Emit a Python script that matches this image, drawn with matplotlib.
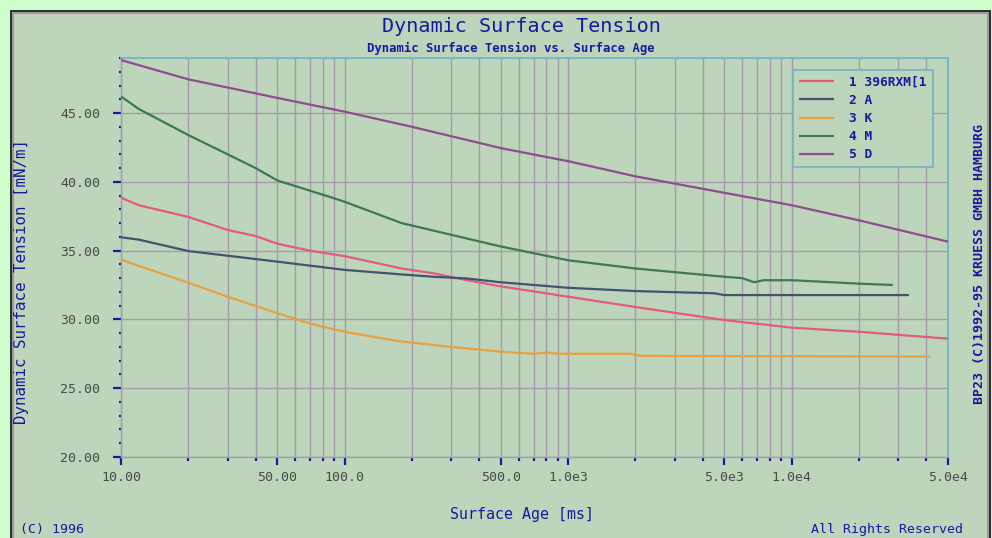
import matplotlib
matplotlib.use("Agg")
import matplotlib.pyplot as plt
from matplotlib.patches import Rectangle
import matplotlib.ticker as mticker

# ---------------- data ----------------
t_rxm = [10, 12, 20, 30, 40, 50, 70, 100, 180, 250, 350, 500, 1000, 2000, 5000, 10000,
         20000, 50000]
v_rxm = [38.85, 38.3, 37.45, 36.5, 36.06, 35.5, 35.0, 34.6, 33.7, 33.35, 32.86, 32.4, 31.65,
         30.9, 29.95, 29.4, 29.1, 28.6]

t_a = [10, 12, 20, 50, 100, 180, 250, 350, 500, 1000, 2000, 4500, 5000, 33400]
v_a = [35.97, 35.8, 34.97, 34.2, 33.6, 33.27, 33.1, 32.98, 32.7, 32.3, 32.06, 31.9, 31.77, 31.77]

t_k = [10, 11, 20, 30, 50, 70, 100, 150, 180, 300, 500, 700, 800, 900, 1000, 1900, 2100, 41500]
v_k = [34.37, 34.1, 32.67, 31.65, 30.45, 29.7, 29.1, 28.6, 28.4, 28.0, 27.65, 27.5, 27.6,
       27.5, 27.5, 27.5, 27.35, 27.3]

t_m = [10, 12, 20, 30, 40, 50, 90, 100, 180, 500, 1000, 2000, 5000, 6000, 6800, 7500,
       10000, 20000, 28300]
v_m = [46.2, 45.3, 43.4, 42.0, 41.0, 40.1, 38.8, 38.55, 37.0, 35.3, 34.3, 33.7, 33.1,
       33.0, 32.7, 32.85, 32.85, 32.6, 32.5]

t_d = [10, 20, 50, 100, 200, 500, 1000, 2000, 5000, 10000, 20000, 50000]
v_d = [48.85, 47.45, 46.1, 45.1, 44.0, 42.45, 41.5, 40.4, 39.2, 38.3, 37.2, 35.65]

series_labels = ["1 396RXM[1", "2 A", "3 K", "4 M", "5 D"]
series_colors = ["#e45a80", "#44546e", "#e8a040", "#3f7a4a", "#8e4e8e"]

x_major = [10, 50, 100, 500, 1000, 5000, 10000, 50000]
x_major_labels = ["10.00", "50.00", "100.0", "500.0", "1.0e3", "5.0e3", "1.0e4", "5.0e4"]
y_major = [20, 25, 30, 35, 40, 45]
y_major_labels = ["20.00", "25.00", "30.00", "35.00", "40.00", "45.00"]

# ---------------- style ----------------
W, H = 992, 538
OUTER = "#ccffcc"
PANEL = "#bdd5bb"
GRID = "#a89aae"
SPINE_BLUE = "#74b4c8"
TXT_BLUE = "#1818a0"
TICK_TXT = "#4a4a4a"
MONO = ["DejaVu Sans Mono"]

fig = plt.figure(figsize=(W / 100, H / 100), dpi=100, facecolor=OUTER)

def fx(px):
    return px / W

def fy(py):
    return 1 - py / H

# outer panel with double dark border
for off, col in [(10, "#303030"), (12, "#9a9a9a"), (14, PANEL)]:
    x0, x1 = off, 991 - (off - 10)
    fig.patches.append(Rectangle((fx(x0), fy(548)), fx(x1 - x0), (548 - off) / H,
                                 transform=fig.transFigure, facecolor=col,
                                 edgecolor="none", zorder=-5))

left, right, top, bottom = 121, 948, 58, 457
ax = fig.add_axes([fx(left), fy(bottom), fx(right - left), (bottom - top) / H])
ax.set_zorder(2)
ax.set_facecolor(PANEL)

ax.set_xscale("log")
ax.set_xlim(10, 50000)
ax.set_ylim(20, 49)

series = [(t_rxm, v_rxm), (t_a, v_a), (t_k, v_k), (t_m, v_m), (t_d, v_d)]
for (t, v), lab, col in zip(series, series_labels, series_colors):
    ax.plot(t, v, color=col, lw=1.6, label=lab, zorder=3, solid_capstyle="butt")

# ticks
ax.xaxis.set_major_locator(mticker.FixedLocator(x_major))
ax.xaxis.set_major_formatter(mticker.FixedFormatter(x_major_labels))
minor_x = []
for dec in [10, 100, 1000, 10000]:
    for m in range(2, 10):
        val = dec * m
        if val < 50000 and val not in x_major:
            minor_x.append(val)
ax.xaxis.set_minor_locator(mticker.FixedLocator(minor_x))
ax.xaxis.set_minor_formatter(mticker.NullFormatter())

ax.yaxis.set_major_locator(mticker.FixedLocator(y_major))
ax.yaxis.set_major_formatter(mticker.FixedFormatter(y_major_labels))
ax.yaxis.set_minor_locator(mticker.MultipleLocator(1))

ax.tick_params(axis="both", which="major", direction="out", length=6, width=1.6,
               color=TXT_BLUE, labelcolor=TICK_TXT, labelsize=9.5)
ax.tick_params(axis="x", which="major", pad=4)
ax.tick_params(axis="y", which="major", pad=9)
ax.tick_params(axis="x", which="minor", direction="out", length=3, width=1.6, color=TXT_BLUE)
ax.tick_params(axis="y", which="minor", direction="out", length=1.5, width=1.6, color=TXT_BLUE)
for lab in ax.get_xticklabels() + ax.get_yticklabels():
    lab.set_family(MONO)

# grid
ax.grid(True, which="major", axis="both", color=GRID, lw=1.0, zorder=1)
ax.grid(True, which="minor", axis="x", color=GRID, lw=1.0, zorder=1)
ax.set_axisbelow(True)

for s in ["top", "right"]:
    ax.spines[s].set_color(SPINE_BLUE)
    ax.spines[s].set_linewidth(1.3)
for s in ["left", "bottom"]:
    ax.spines[s].set_color(GRID)
    ax.spines[s].set_linewidth(1.0)

# legend
leg = ax.legend(loc="upper left", bbox_to_anchor=(fx(793), fy(70)),
                bbox_transform=fig.transFigure, frameon=True, fancybox=False,
                facecolor=PANEL, edgecolor=SPINE_BLUE, framealpha=1,
                handlelength=2.7, handletextpad=1.2, labelspacing=0.4,
                borderpad=0.45, borderaxespad=0,
                prop={"family": MONO, "size": 9.3, "weight": "bold"})
leg.get_frame().set_linewidth(1.3)
for txt in leg.get_texts():
    txt.set_color(TXT_BLUE)
for ln in leg.get_lines():
    ln.set_linewidth(1.6)

# texts
fig.text(fx(521), fy(26), "Dynamic Surface Tension", ha="center", va="center",
         color=TXT_BLUE, fontsize=14.5, family=MONO)
fig.text(fx(511), fy(48), "Dynamic Surface Tension vs. Surface Age", ha="center",
         va="center", color=TXT_BLUE, fontsize=8.8, family=MONO, weight="bold")
fig.text(fx(522), fy(514), "Surface Age [ms]", ha="center", va="center",
         color=TXT_BLUE, fontsize=10.8, family=MONO)
fig.text(fx(22), fy(281), "Dynamic Surface Tension [mN/m]", ha="center", va="center",
         rotation=90, color=TXT_BLUE, fontsize=11.4, family=MONO)
fig.text(fx(979), fy(264), "BP23 (C)1992-95 KRUESS GMBH HAMBURG", ha="center",
         va="center", rotation=90, color=TXT_BLUE, fontsize=9.6, family=MONO,
         weight="bold")
fig.text(fx(20), fy(529), "(C) 1996", ha="left", va="center", color=TXT_BLUE,
         fontsize=9.5, family=MONO)
fig.text(fx(811), fy(529), "All Rights Reserved", ha="left", va="center",
         color=TXT_BLUE, fontsize=9.5, family=MONO)

fig.savefig("out.png", dpi=100, facecolor=OUTER)
